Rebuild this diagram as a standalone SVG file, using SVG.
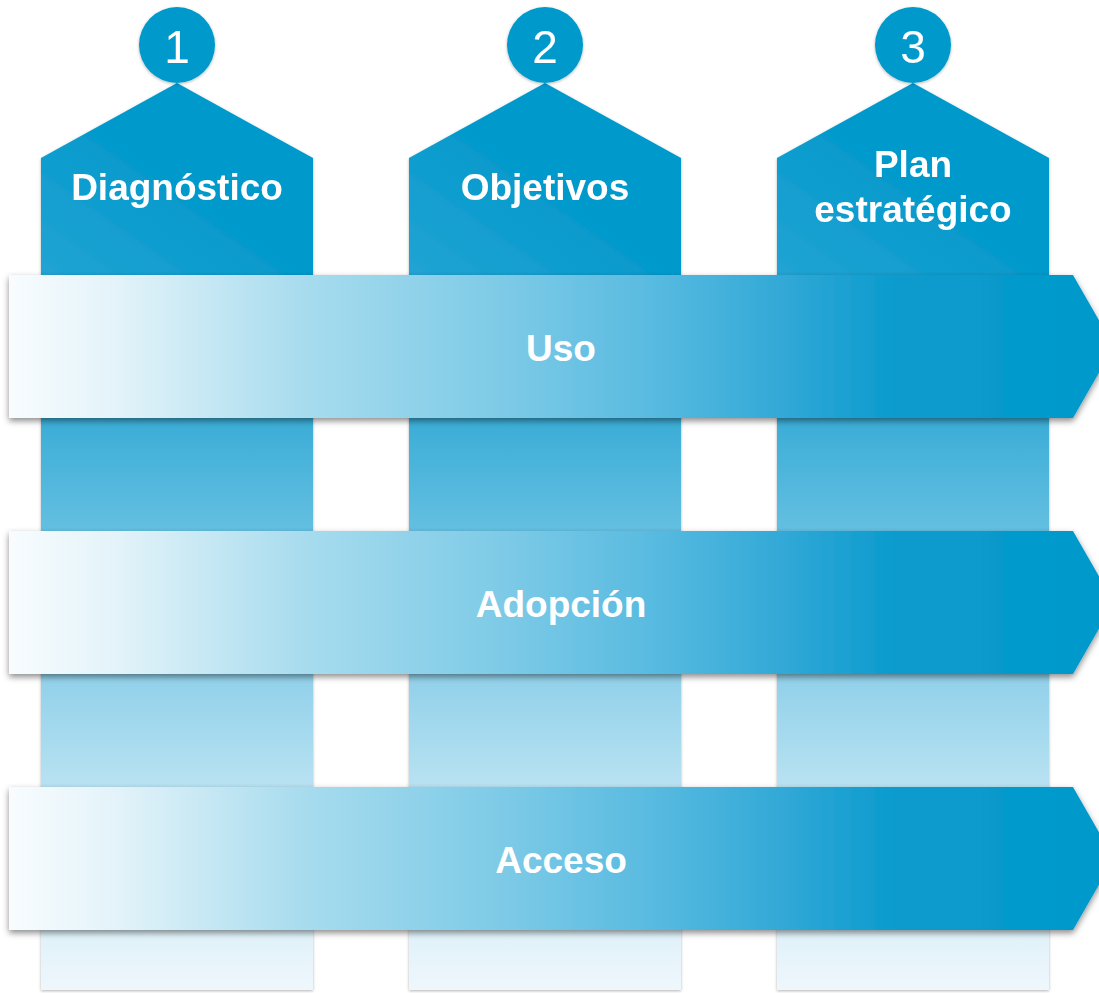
<svg xmlns="http://www.w3.org/2000/svg" width="1099" height="993" viewBox="0 0 1099 993">
<style>
.lbl{font-family:"Liberation Sans",Arial,sans-serif;font-weight:bold;fill:#fff;text-anchor:middle;font-size:37px}
.num{font-family:"Liberation Sans",Arial,sans-serif;fill:#fff;text-anchor:middle;font-size:46px}
</style>
<defs>
<linearGradient id="colG" gradientUnits="userSpaceOnUse" x1="0" y1="160" x2="0" y2="990">
<stop offset="0" stop-color="#0399cc"/>
<stop offset="0.14" stop-color="#0a9bcd"/>
<stop offset="0.33" stop-color="#40afd8"/>
<stop offset="0.47" stop-color="#6bc3e3"/>
<stop offset="0.64" stop-color="#96d3eb"/>
<stop offset="0.78" stop-color="#c0e5f3"/>
<stop offset="1" stop-color="#eef7fc"/>
</linearGradient>
<linearGradient id="topG" x1="0" y1="1" x2="1" y2="0">
<stop offset="0" stop-color="#22a4d3"/>
<stop offset="0.5" stop-color="#0399cc"/>
<stop offset="1" stop-color="#0399cc"/>
</linearGradient>
<linearGradient id="bandG" gradientUnits="userSpaceOnUse" x1="9" y1="0" x2="1090" y2="0">
<stop offset="0" stop-color="#f8fcfe"/>
<stop offset="0.1" stop-color="#e3f3f9"/>
<stop offset="0.27" stop-color="#a8dcee"/>
<stop offset="0.45" stop-color="#7fcbe7"/>
<stop offset="0.6" stop-color="#57bae0"/>
<stop offset="0.72" stop-color="#30a8d6"/>
<stop offset="0.82" stop-color="#0a9bcd"/>
<stop offset="1" stop-color="#0399cc"/>
</linearGradient>
<filter id="sh" x="-5%" y="-5%" width="110%" height="120%">
<feDropShadow dx="0" dy="3" stdDeviation="3" flood-color="#000" flood-opacity="0.45"/>
</filter>
<filter id="csh" x="-5%" y="-5%" width="110%" height="110%">
<feDropShadow dx="0" dy="1" stdDeviation="1.5" flood-color="#000" flood-opacity="0.3"/>
</filter>
</defs>
<rect width="1099" height="993" fill="#fff"/>
<g id="col1" filter="url(#csh)">
<rect x="41" y="158" width="272" height="832" fill="url(#colG)"/>
<path d="M41,158 L177,83 L313,158 L313,275 L41,275 Z" fill="url(#topG)"/>
<text class="lbl" x="177" y="200">Diagnóstico</text>
</g>
<g id="col2" filter="url(#csh)">
<rect x="409" y="158" width="272" height="832" fill="url(#colG)"/>
<path d="M409,158 L545,83 L681,158 L681,275 L409,275 Z" fill="url(#topG)"/>
<text class="lbl" x="545" y="200">Objetivos</text>
</g>
<g id="col3" filter="url(#csh)">
<rect x="777" y="158" width="272" height="832" fill="url(#colG)"/>
<path d="M777,158 L913,83 L1049,158 L1049,275 L777,275 Z" fill="url(#topG)"/>
<text class="lbl" x="913" y="177">Plan</text>
<text class="lbl" x="913" y="222">estratégico</text>
</g>
<g id="circle1" filter="url(#csh)">
<circle cx="177" cy="45" r="38" fill="#0399cc"/>
<text class="num" x="177" y="63">1</text>
</g>
<g id="circle2" filter="url(#csh)">
<circle cx="545" cy="45" r="38" fill="#0399cc"/>
<text class="num" x="545" y="63">2</text>
</g>
<g id="circle3" filter="url(#csh)">
<circle cx="913" cy="45" r="38" fill="#0399cc"/>
<text class="num" x="913" y="63">3</text>
</g>
<g id="band-uso">
<path d="M9,275 L1073,275 L1114,346.5 L1073,418 L9,418 Z" fill="url(#bandG)" filter="url(#sh)"/>
<text class="lbl" x="561" y="361">Uso</text>
</g>
<g id="band-adopcion">
<path d="M9,531 L1073,531 L1114,602.5 L1073,674 L9,674 Z" fill="url(#bandG)" filter="url(#sh)"/>
<text class="lbl" x="561" y="617">Adopción</text>
</g>
<g id="band-acceso">
<path d="M9,787 L1073,787 L1114,858.5 L1073,930 L9,930 Z" fill="url(#bandG)" filter="url(#sh)"/>
<text class="lbl" x="561" y="873">Acceso</text>
</g>
<g id="connectors"/>
</svg>
